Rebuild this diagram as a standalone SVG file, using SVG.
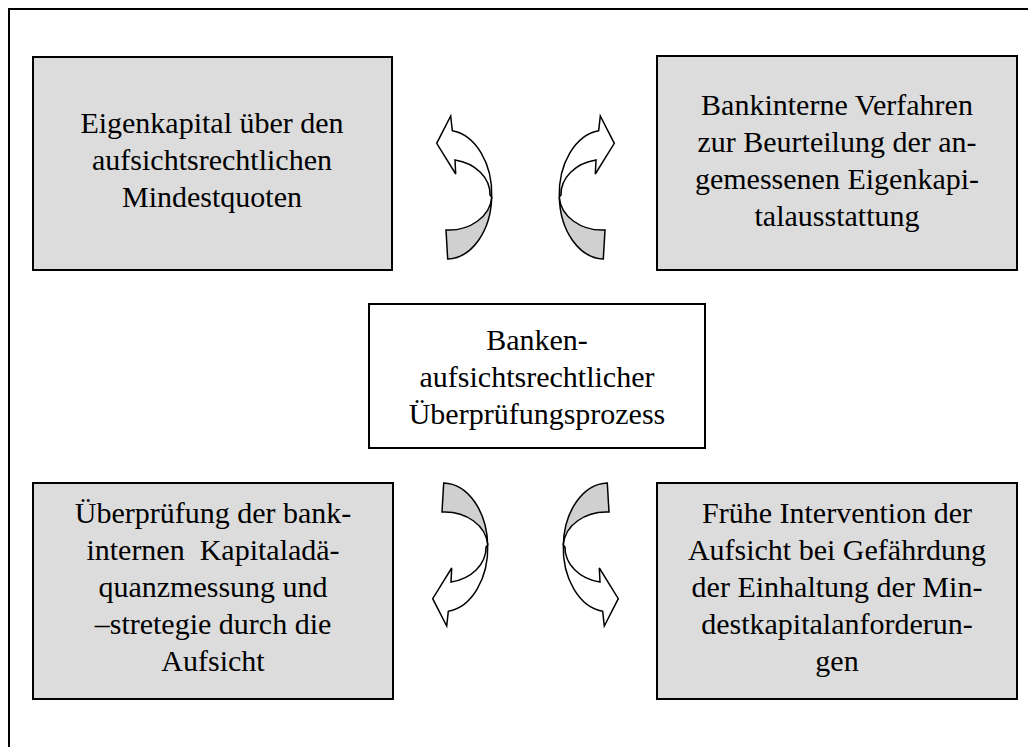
<svg xmlns="http://www.w3.org/2000/svg" xmlns:xlink="http://www.w3.org/1999/xlink" width="1028" height="747" viewBox="0 0 1028 747">
<style>
.box{fill:#dcdcdc;stroke:#000;stroke-width:2}
.cbox{fill:#fff;stroke:#000;stroke-width:2}
.t{font-family:"Liberation Serif","Times New Roman",serif;font-size:30px;fill:#000;text-anchor:middle}
.front{fill:#fff;stroke:#000;stroke-width:1.5;stroke-linejoin:miter}
.back{fill:#d0d0d0;stroke:#000;stroke-width:1.5}
</style>
<defs>
<g id="carrow">
<path class="back" d="M447.7,259 A45,64 0 0 0 491.7,197 A43,35 0 0 1 446,230 Z"/>
<path class="front" d="M491.7,197 A45,64 0 0 0 452.3,130.7 L450.7,116 L436.7,143.3 L455.7,174 L455,160 A43,35 0 0 1 490,195 Z"/>
</g>
</defs>
<rect width="1028" height="747" fill="#fff"/>
<path d="M9,747 V9 H1028" fill="none" stroke="#000" stroke-width="2"/>
<g id="n_tl">
<rect class="box" x="33" y="57" width="359" height="213"/>
<text class="t" x="212" y="133">Eigenkapital über den</text>
<text class="t" x="212" y="170">aufsichtsrechtlichen</text>
<text class="t" x="212" y="207">Mindestquoten</text>
</g>
<g id="n_tr">
<rect class="box" x="657" y="56" width="360" height="214"/>
<text class="t" x="837" y="115">Bankinterne Verfahren</text>
<text class="t" x="837" y="152">zur Beurteilung der an-</text>
<text class="t" x="837" y="189">gemessenen Eigenkapi-</text>
<text class="t" x="837" y="226">talausstattung</text>
</g>
<g id="n_c">
<rect class="cbox" x="369" y="304" width="336" height="144"/>
<text class="t" x="537" y="350">Banken-</text>
<text class="t" x="537" y="387">aufsichtsrechtlicher</text>
<text class="t" x="537" y="424">Überprüfungsprozess</text>
</g>
<g id="n_bl">
<rect class="box" x="33" y="483" width="360" height="216"/>
<text class="t" x="213" y="523">Überprüfung der bank-</text>
<text class="t" x="213" y="560" xml:space="preserve">internen  Kapitaladä-</text>
<text class="t" x="213" y="597">quanzmessung und</text>
<text class="t" x="213" y="634">–stretegie durch die</text>
<text class="t" x="213" y="671">Aufsicht</text>
</g>
<g id="n_br">
<rect class="box" x="657" y="483" width="360" height="216"/>
<text class="t" x="837" y="523">Frühe Intervention der</text>
<text class="t" x="837" y="560">Aufsicht bei Gefährdung</text>
<text class="t" x="837" y="597">der Einhaltung der Min-</text>
<text class="t" x="837" y="634">destkapitalanforderun-</text>
<text class="t" x="837" y="671">gen</text>
</g>
<g id="connectors">
<use xlink:href="#carrow"/>
<use xlink:href="#carrow" transform="translate(1051,0) scale(-1,1)"/>
<use xlink:href="#carrow" transform="translate(-4,742) scale(1,-1)"/>
<use xlink:href="#carrow" transform="translate(1055,742) scale(-1,-1)"/>
</g>
</svg>
